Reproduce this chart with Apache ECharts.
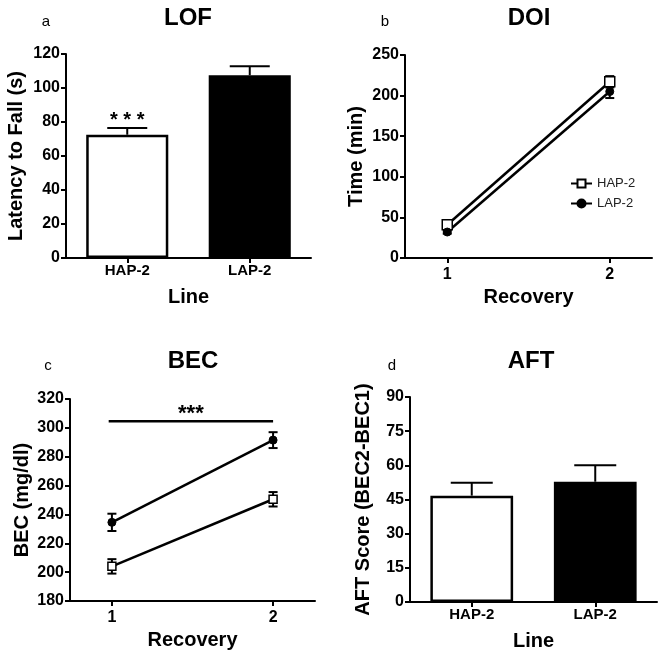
<!DOCTYPE html>
<html><head><meta charset="utf-8">
<script src="https://cdn.jsdelivr.net/npm/echarts@6/dist/echarts.min.js"></script>
<style>html,body{margin:0;padding:0;background:#fff}#c{width:664px;height:658px}</style>
</head><body><div id="c"></div>
<script>
// ---- data ----
const lineCategories = ['HAP-2', 'LAP-2'];
const lofMean = [72.5, 107.5];
const lofSem = [4, 5.3];
const lofSig = ['* * *', ''];
const recovery = [1, 2];
const doiHap = [41, 217];
const doiHapSem = [3, 7];
const doiLap = [32, 205];
const doiLapSem = [2, 8];
const becHap = [204, 250.5];
const becHapSem = [5, 5];
const becLap = [234.5, 291.5];
const becLapSem = [6, 5.5];
const becSig = [[0.98, 2, 304.5]];
const becSigText = '***';
const aftMean = [46.7, 52.8];
const aftSem = [5.7, 7.2];

const FONT = '"Liberation Sans", Arial, sans-serif';
const chart = echarts.init(document.getElementById('c'), null, {renderer: 'canvas'});

function pairs(xs, ys, es) { return xs.map((x, i) => es ? [x, ys[i], es[i]] : [x, ys[i]]); }

function errRender(capW, both) {
  return function (params, api) {
    const x = api.value(0), m = api.value(1), e = api.value(2);
    const pTop = api.coord([x, m + e]);
    const pBot = api.coord([x, both ? m - e : m]);
    const style = {stroke: '#000', lineWidth: 2};
    const ch = [
      {type: 'line', shape: {x1: pTop[0], y1: pTop[1], x2: pBot[0], y2: pBot[1]}, style},
      {type: 'line', shape: {x1: pTop[0] - capW / 2, y1: pTop[1], x2: pTop[0] + capW / 2, y2: pTop[1]}, style}
    ];
    if (both) ch.push({type: 'line', shape: {x1: pBot[0] - capW / 2, y1: pBot[1], x2: pBot[0] + capW / 2, y2: pBot[1]}, style});
    return {type: 'group', children: ch};
  };
}

function axisCommon() {
  return {
    axisLine: {show: true, onZero: false, lineStyle: {color: '#000', width: 2}},
    axisTick: {show: true, inside: false, length: 5, lineStyle: {color: '#000', width: 2}},
    splitLine: {show: false}
  };
}
function yAx(gi, min, max, interval, name, gap) {
  return Object.assign(axisCommon(), {
    type: 'value', gridIndex: gi, min, max, interval,
    name, nameLocation: 'middle', nameGap: gap,
    nameTextStyle: {fontFamily: FONT, fontWeight: 'bold', fontSize: 20, color: '#000'},
    axisLabel: {fontFamily: FONT, fontWeight: 'bold', fontSize: 16, color: '#000', margin: 6}
  });
}
function xCat(gi, name) {
  const a = axisCommon();
  a.axisTick.alignWithLabel = true;
  return Object.assign(a, {
    type: 'category', gridIndex: gi, data: lineCategories, boundaryGap: true,
    name, nameLocation: 'middle', nameGap: 29,
    nameTextStyle: {fontFamily: FONT, fontWeight: 'bold', fontSize: 20, color: '#000'},
    axisLabel: {fontFamily: FONT, fontWeight: 'bold', fontSize: 15, color: '#000', margin: 5}
  });
}
function xVal(gi, name) {
  const a = axisCommon();
  a.axisTick.customValues = recovery;
  return Object.assign(a, {
    type: 'value', gridIndex: gi, min: 0.74, max: 2.26,
    name, nameLocation: 'middle', nameGap: 29,
    nameTextStyle: {fontFamily: FONT, fontWeight: 'bold', fontSize: 20, color: '#000'},
    axisLabel: {fontFamily: FONT, fontWeight: 'bold', fontSize: 16, color: '#000', margin: 9, customValues: recovery}
  });
}

function txt(x, y, text, size, bold) {
  return {type: 'text', x, y, style: {text, fontFamily: FONT, fontSize: size, fontWeight: bold ? 'bold' : 'normal', fill: '#000', align: 'center', verticalAlign: 'middle'}};
}

const lineStyle = {color: '#000', width: 2.5};
const hapItem = {color: '#fff', borderColor: '#000', borderWidth: 1.5};
const lapItem = {color: '#000', borderColor: '#000', borderWidth: 1};

const option = {
  backgroundColor: '#fff',
  animation: false,
  grid: [
    {left: 66, top: 54, width: 245, height: 204, outerBoundsMode: 'none', containLabel: false},
    {left: 405, top: 55, width: 247, height: 203, outerBoundsMode: 'none', containLabel: false},
    {left: 70, top: 399, width: 245, height: 202, outerBoundsMode: 'none', containLabel: false},
    {left: 410, top: 397, width: 247, height: 205, outerBoundsMode: 'none', containLabel: false}
  ],
  xAxis: [xCat(0, 'Line'), xVal(1, 'Recovery'), xVal(2, 'Recovery'), xCat(3, 'Line')],
  yAxis: [
    yAx(0, 0, 120, 20, 'Latency to Fall (s)', 40),
    yAx(1, 0, 250, 50, 'Time (min)', 39),
    yAx(2, 180, 320, 20, 'BEC (mg/dl)', 38),
    yAx(3, 0, 90, 15, 'AFT Score (BEC2-BEC1)', 37)
  ],
  legend: {
    show: true, orient: 'vertical', left: 570, top: 177, padding: 0, itemWidth: 21, itemHeight: 10, itemGap: 7,
    data: ['HAP-2', 'LAP-2'],
    textStyle: {fontFamily: FONT, fontSize: 13, color: '#222'}
  },
  graphic: [
    txt(188, 18, 'LOF', 24, true), txt(46, 22, 'a', 15, false),
    txt(529, 18, 'DOI', 24, true), txt(385, 22, 'b', 15, false),
    txt(193, 361, 'BEC', 24, true), txt(48, 366, 'c', 15, false),
    txt(531, 361, 'AFT', 24, true), txt(392, 366, 'd', 15, false)
  ],
  series: [
    // a: LOF
    {type: 'bar', xAxisIndex: 0, yAxisIndex: 0, barWidth: '67%',
     data: lofMean.map((v, i) => ({value: v, itemStyle: i === 0 ? {color: '#fff', borderColor: '#000', borderWidth: 2.5} : {color: '#000', borderColor: '#000', borderWidth: 2.5}}))},
    {type: 'custom', xAxisIndex: 0, yAxisIndex: 0, z: 5, data: pairs([0, 1], lofMean, lofSem), encode: {x: 0, y: 1},
     renderItem: function (params, api) {
       const g = errRender(40, false)(params, api);
       const s = lofSig[params.dataIndex];
       if (s) {
         const p = api.coord([api.value(0), api.value(1) + api.value(2)]);
         g.children.push({type: 'text', x: p[0], y: p[1] + 3, style: {text: s, fontFamily: FONT, fontSize: 20, fontWeight: 'bold', fill: '#000', align: 'center', verticalAlign: 'bottom'}});
       }
       return g;
     }},
    // b: DOI
    {type: 'custom', xAxisIndex: 1, yAxisIndex: 1, z: 1, data: pairs(recovery, doiHap, doiHapSem), encode: {x: 0, y: 1}, renderItem: errRender(9, true)},
    {type: 'custom', xAxisIndex: 1, yAxisIndex: 1, z: 1, data: pairs(recovery, doiLap, doiLapSem), encode: {x: 0, y: 1}, renderItem: errRender(9, true)},
    {name: 'HAP-2', type: 'line', xAxisIndex: 1, yAxisIndex: 1, z: 3, data: pairs(recovery, doiHap), symbol: 'rect', symbolSize: 10, lineStyle, itemStyle: hapItem},
    {name: 'LAP-2', type: 'line', xAxisIndex: 1, yAxisIndex: 1, z: 3, data: pairs(recovery, doiLap), symbol: 'circle', symbolSize: 8, lineStyle, itemStyle: lapItem},
    // c: BEC
    {type: 'custom', xAxisIndex: 2, yAxisIndex: 2, z: 1, data: pairs(recovery, becHap, becHapSem), encode: {x: 0, y: 1}, renderItem: errRender(9, true)},
    {type: 'custom', xAxisIndex: 2, yAxisIndex: 2, z: 1, data: pairs(recovery, becLap, becLapSem), encode: {x: 0, y: 1}, renderItem: errRender(9, true)},
    {name: 'HAP-2', type: 'line', xAxisIndex: 2, yAxisIndex: 2, z: 3, data: pairs(recovery, becHap), symbol: 'rect', symbolSize: 8, lineStyle, itemStyle: hapItem},
    {name: 'LAP-2', type: 'line', xAxisIndex: 2, yAxisIndex: 2, z: 3, data: pairs(recovery, becLap), symbol: 'circle', symbolSize: 8, lineStyle, itemStyle: lapItem},
    {type: 'custom', xAxisIndex: 2, yAxisIndex: 2, z: 4, data: becSig, encode: {x: [0, 1], y: 2},
     renderItem: function (params, api) {
       const p1 = api.coord([api.value(0), api.value(2)]);
       const p2 = api.coord([api.value(1), api.value(2)]);
       return {type: 'group', children: [
         {type: 'line', shape: {x1: p1[0], y1: p1[1], x2: p2[0], y2: p2[1]}, style: {stroke: '#000', lineWidth: 2.5}},
         {type: 'text', x: (p1[0] + p2[0]) / 2, y: p1[1] + 4, style: {text: becSigText, fontFamily: FONT, fontSize: 22, fontWeight: 'bold', fill: '#000', align: 'center', verticalAlign: 'bottom'}}
       ]};
     }},
    // d: AFT
    {type: 'bar', xAxisIndex: 3, yAxisIndex: 3, barWidth: '67%',
     data: aftMean.map((v, i) => ({value: v, itemStyle: i === 0 ? {color: '#fff', borderColor: '#000', borderWidth: 2.5} : {color: '#000', borderColor: '#000', borderWidth: 2.5}}))},
    {type: 'custom', xAxisIndex: 3, yAxisIndex: 3, z: 5, data: pairs([0, 1], aftMean, aftSem), encode: {x: 0, y: 1}, renderItem: errRender(42, false)}
  ]
};
chart.setOption(option);
</script>
</body></html>
